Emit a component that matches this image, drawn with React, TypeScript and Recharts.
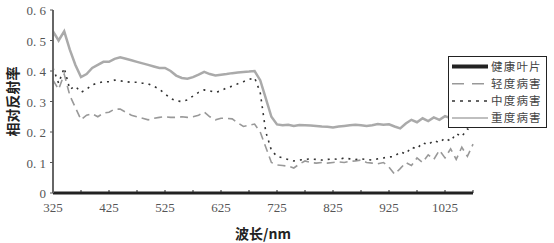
import { LineChart, Line, XAxis, YAxis } from "recharts";

const wavelengths = [
  325, 335, 345, 355, 365, 375, 385, 395, 405, 415, 425, 435, 445, 455, 465, 475, 485, 495, 505,
  515, 525, 535, 545, 555, 565, 575, 585, 595, 605, 615, 625, 635, 645, 655, 665, 675, 685, 695,
  705, 715, 725, 735, 745, 755, 765, 775, 785, 795, 805, 815, 825, 835, 845, 855, 865, 875, 885,
  895, 905, 915, 925, 935, 945, 955, 965, 975, 985, 995, 1005, 1015, 1025, 1035, 1045, 1055,
  1065, 1075,
];

const light = [
  0.37, 0.34, 0.39, 0.32, 0.28, 0.24, 0.255, 0.26, 0.25, 0.262, 0.265, 0.275, 0.275, 0.265, 0.255,
  0.25, 0.245, 0.24, 0.245, 0.248, 0.25, 0.248, 0.248, 0.25, 0.248, 0.25, 0.255, 0.266, 0.25,
  0.24, 0.245, 0.245, 0.243, 0.23, 0.218, 0.222, 0.226, 0.2, 0.15, 0.1, 0.092, 0.09, 0.088, 0.082,
  0.095, 0.105, 0.1, 0.098, 0.1, 0.098, 0.1, 0.102, 0.1, 0.104, 0.105, 0.108, 0.1, 0.098, 0.096,
  0.1, 0.085, 0.062, 0.08, 0.1, 0.09, 0.115, 0.1, 0.125, 0.11, 0.14, 0.115, 0.145, 0.11, 0.15,
  0.12, 0.16,
];

const medium = [
  0.41, 0.36, 0.41, 0.34, 0.35, 0.33, 0.34, 0.355, 0.36, 0.365, 0.365, 0.37, 0.368, 0.365, 0.363,
  0.363, 0.36, 0.358, 0.35, 0.34, 0.325, 0.31, 0.302, 0.3, 0.305, 0.318, 0.33, 0.338, 0.335, 0.33,
  0.335, 0.345, 0.35, 0.358, 0.365, 0.372, 0.378, 0.33, 0.2, 0.14, 0.12, 0.115, 0.11, 0.105,
  0.108, 0.11, 0.112, 0.11, 0.108, 0.11, 0.112, 0.11, 0.115, 0.112, 0.11, 0.112, 0.11, 0.108,
  0.112, 0.115, 0.118, 0.12, 0.135, 0.128, 0.15, 0.145, 0.165, 0.158, 0.172, 0.165, 0.18, 0.17,
  0.195, 0.185, 0.21, 0.2,
];

const severe = [
  0.53, 0.5, 0.53, 0.47, 0.42, 0.38, 0.39, 0.41, 0.42, 0.43, 0.43, 0.44, 0.445, 0.44, 0.435, 0.43,
  0.425, 0.42, 0.415, 0.41, 0.41, 0.4, 0.385, 0.377, 0.375, 0.38, 0.388, 0.397, 0.39, 0.385,
  0.388, 0.39, 0.393, 0.395, 0.397, 0.398, 0.4, 0.37, 0.31, 0.25, 0.225, 0.222, 0.224, 0.22,
  0.223, 0.222, 0.221, 0.22, 0.218, 0.217, 0.215, 0.218, 0.22, 0.222, 0.224, 0.222, 0.22, 0.222,
  0.226, 0.224, 0.225, 0.218, 0.212, 0.228, 0.24, 0.232, 0.245, 0.236, 0.248, 0.24, 0.252, 0.245,
  0.25, 0.248, 0.252, 0.25,
];

const xTicks = [
  325, 375, 425, 475, 525, 575, 625, 675, 725, 775, 825, 875, 925, 975, 1025, 1075,
];
const yTicks = [0, 0.1, 0.2, 0.3, 0.4, 0.5, 0.6];

const legendItems = [
  { name: "健康叶片", color: "#222", width: 4, dash: undefined },
  { name: "轻度病害", color: "#999", width: 1.5, dash: "12 8" },
  { name: "中度病害", color: "#333", width: 1.5, dash: "3 5" },
  { name: "重度病害", color: "#aaa", width: 1.5, dash: undefined },
];

const data = wavelengths.map((w, i) => ({
  w,
  light: light[i],
  medium: medium[i],
  severe: severe[i],
}));

const serif = "'Liberation Serif', 'Noto Sans CJK SC', serif";
const cjk = "'Noto Sans CJK SC', sans-serif";

function XTick(props: any) {
  const { x, y, payload } = props;
  const v = payload.value;
  if ((v - 325) % 100 !== 0 || v > 1025) return null;
  return (
    <text x={x} y={y + 14} textAnchor="middle" fontFamily={serif} fontSize={13} fill="#555">
      {v}
    </text>
  );
}

function YTick(props: any) {
  const { x, y, payload } = props;
  const v = payload.value;
  const label = v === 0 ? "0" : v.toFixed(1).replace(".", ". ");
  return (
    <text x={x - 2} y={y + 5} textAnchor="end" fontFamily={serif} fontSize={13} fill="#555">
      {label}
    </text>
  );
}

function YLabel(props: any) {
  const { viewBox } = props;
  const cy = viewBox.y + viewBox.height / 2;
  return (
    <text
      x={12}
      y={cy}
      transform={`rotate(-90, 12, ${cy})`}
      textAnchor="middle"
      dominantBaseline="central"
      fontFamily={cjk}
      fontSize={14}
      fontWeight="bold"
      fill="#222"
    >
      相对反射率
    </text>
  );
}

function LegendBox() {
  return (
    <svg
      width={99}
      height={72}
      style={{ position: "absolute", left: 448, top: 56 }}
    >
      <rect x={0.5} y={0.5} width={98} height={71} fill="#fff" stroke="#222" />
      {legendItems.map((it, i) => {
        const cy = 10.5 + i * 17.2;
        return (
          <g key={it.name}>
            <line
              x1={4}
              y1={cy}
              x2={40}
              y2={cy}
              stroke={it.color}
              strokeWidth={it.width}
              strokeDasharray={it.dash}
            />
            <text
              x={43}
              y={cy + 4}
              fontFamily={cjk}
              fontSize={11.5}
              letterSpacing={1.2}
              fill="#444"
            >
              {it.name}
            </text>
          </g>
        );
      })}
    </svg>
  );
}

export default function App() {
  return (
    <div style={{ position: "absolute", left: 0, top: 0, width: 554, height: 243, background: "#fff" }}>
      <LineChart width={554} height={243} data={data} margin={{ top: 10, right: 81, left: 0, bottom: 0 }}>
        <XAxis
          dataKey="w"
          type="number"
          domain={[325, 1075]}
          ticks={xTicks}
          interval={0}
          tick={<XTick />}
          tickSize={3}
          tickLine={{ stroke: "#222", transform: "translate(0,-3)" }}
          axisLine={{ stroke: "#222", strokeWidth: 3 }}
          height={50}
          label={{
            value: "波长/nm",
            position: "insideBottom",
            offset: 4,
            fontFamily: cjk,
            fontSize: 14,
            fontWeight: "bold",
            fill: "#222",
          }}
        />
        <YAxis
          type="number"
          domain={[0, 0.6]}
          ticks={yTicks}
          interval={0}
          tick={<YTick />}
          tickSize={3}
          tickLine={{ stroke: "#555" }}
          axisLine={{ stroke: "#666", strokeWidth: 2 }}
          width={53}
          label={<YLabel />}
        />
        <Line
          dataKey="severe"
          stroke="#aaa"
          strokeWidth={2.5}
          dot={false}
          isAnimationActive={false}
        />
        <Line
          dataKey="light"
          stroke="#999"
          strokeWidth={1.6}
          strokeDasharray="8 5"
          dot={false}
          isAnimationActive={false}
        />
        <Line
          dataKey="medium"
          stroke="#333"
          strokeWidth={1.6}
          strokeDasharray="2 5"
          dot={false}
          isAnimationActive={false}
        />
      </LineChart>
      <LegendBox />
    </div>
  );
}
